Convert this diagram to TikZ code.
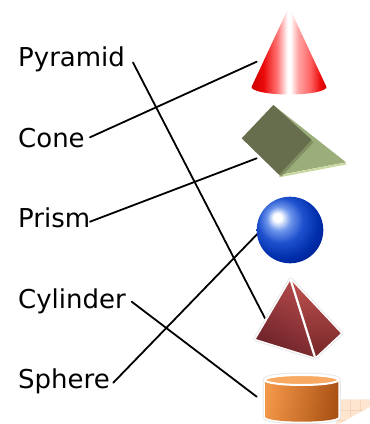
\documentclass[tikz,border=0pt]{standalone}
\usepackage{fontspec}
\setmainfont{DejaVu Sans}
\definecolor{coneD}{RGB}{205,0,0}
\definecolor{coneR}{RGB}{235,10,10}
\definecolor{prismDark}{RGB}{102,110,78}
\definecolor{prismLight}{RGB}{155,174,122}
\definecolor{prismRim}{RGB}{200,216,160}
\definecolor{prismBand}{RGB}{128,142,98}
\definecolor{pyrA}{RGB}{178,72,74}
\definecolor{pyrB}{RGB}{108,34,40}
\definecolor{pyrC}{RGB}{190,82,80}
\definecolor{pyrD}{RGB}{118,38,40}
\definecolor{cylL}{RGB}{242,150,72}
\definecolor{cylR}{RGB}{170,82,20}
\definecolor{cylTop}{RGB}{248,170,98}
\definecolor{shadowC}{RGB}{253,229,208}
\definecolor{shadowL}{RGB}{246,212,186}
\definecolor{glow}{RGB}{232,232,232}
\pgfdeclarehorizontalshading{coneshade}{100bp}{%
  color(0bp)=(coneD); color(25bp)=(coneD); color(33bp)=(coneR);
  color(42bp)=(red!55!white); color(49bp)=(white); color(51bp)=(white);
  color(56bp)=(red!35!white); color(64bp)=(red!60!white);
  color(71bp)=(coneR); color(75bp)=(coneD); color(100bp)=(coneD)}
\pgfdeclareradialshading{sphshade}{\pgfpoint{-10bp}{10bp}}{%
  color(0bp)=(white); color(3bp)=(white);
  color(9bp)=(rgb,255:red,110;green,150;blue,235);
  color(17bp)=(rgb,255:red,30;green,80;blue,205);
  color(27bp)=(rgb,255:red,0;green,45;blue,170);
  color(36bp)=(rgb,255:red,0;green,30;blue,140);
  color(60bp)=(rgb,255:red,0;green,30;blue,140)}
\tikzset{
  lbl/.style={anchor=base west, inner sep=0pt, font=\fontsize{26}{30}\selectfont},
  conn/.style={line width=1.8pt, black, line cap=round},
  glowline/.style={line width=5pt, glow, line join=round},
  whiteline/.style={line width=3pt, white, line join=round},
}
\begin{document}
\begin{tikzpicture}[x=1pt,y=-1pt]
\useasboundingbox (0,0) rectangle (370,424);
% labels
\node[lbl] (tpyr)   at (18,66.7)  {Pyramid};
\node[lbl] (tcone)  at (18,147.3) {Cone};
\node[lbl] (tprism) at (18,227.8) {Prism};
\node[lbl] (tcyl)   at (18,308.2) {Cylinder};
\node[lbl] (tsph)   at (18,388.4) {Sphere};
% connector ends
\coordinate (spyr)   at (133,62.5);
\coordinate (scone)  at (90,137.3);
\coordinate (sprism) at (90,221.7);
\coordinate (scyl)   at (131.7,301.7);
\coordinate (ssph)   at (113.3,382.7);
\coordinate (epyr)   at (265,318.3);
\coordinate (econe)  at (256.7,61.7);
\coordinate (eprism) at (256.7,158.3);
\coordinate (esph)   at (258,233.3);
\coordinate (ecyl)   at (256.7,396.7);
\draw[conn] (spyr) -- (epyr);
\draw[conn] (scone) -- (econe);
\draw[conn] (sprism) -- (eprism);
\draw[conn] (scyl) -- (ecyl);
\draw[conn] (ssph) -- (esph);
% cone
\shade[shading=coneshade] (251.5,87) -- (289,6.7) -- (326.5,87)
  arc[start angle=0, end angle=180, x radius=37.5, y radius=7.5] -- cycle;
% prism
\fill[prismLight] (273.3,105) -- (346,162.3) -- (279.3,175) -- cycle;
\draw[prismRim, line width=2pt] (346,163.5) -- (279.3,176.3);
\fill[prismDark] (273.3,105) -- (241.7,138.3) -- (279.3,175) -- (311.7,140) -- cycle;
\draw[prismBand, line width=2.5pt] (312.5,141.5) -- (280.5,175.5);
% sphere
\shade[shading=sphshade] (290,230) circle[radius=33.3];
% pyramid
\draw[glowline] (290.7,280) -- (256,339) -- (315,357.3) -- (340.7,333.3) -- cycle;
\draw[whiteline] (290.7,280) -- (256,339) -- (315,357.3) -- (340.7,333.3) -- cycle;
\shade[left color=pyrA, right color=pyrB, shading angle=-30] (290.7,280) -- (256,339) -- (315,357.3) -- cycle;
\shade[top color=pyrC, bottom color=pyrD] (290.7,280) -- (315,357.3) -- (340.7,333.3) -- cycle;
\draw[white, line width=2.2pt] (290.7,280) -- (315,357.3);
% cylinder shadow
\fill[shadowC] (336,399.3) -- (370,399.3) -- (370,406.7) -- (340,423.5) -- (336,423.5) -- cycle;
\begin{scope}
\clip (336,399.3) -- (370,399.3) -- (370,406.7) -- (340,423.5) -- (336,423.5) -- cycle;
\foreach \gx in {350,360} \draw[shadowL, line width=0.8pt] (\gx,395) -- (\gx,430);
\foreach \gy in {410,420} \draw[shadowL, line width=0.8pt] (330,\gy) -- (375,\gy);
\end{scope}
% cylinder
\draw[glowline] (265,380) -- (265,416.7)
  arc[start angle=180, end angle=0, x radius=36.7, y radius=5] -- (338.4,380)
  arc[start angle=0, end angle=-180, x radius=36.7, y radius=5] -- cycle;
\draw[whiteline] (265,380) -- (265,416.7)
  arc[start angle=180, end angle=0, x radius=36.7, y radius=5] -- (338.4,380)
  arc[start angle=0, end angle=-180, x radius=36.7, y radius=5] -- cycle;
\shade[left color=cylL, right color=cylR, shading angle=80] (265,380) -- (265,416.7)
  arc[start angle=180, end angle=0, x radius=36.7, y radius=5] -- (338.4,380) -- cycle;
\fill[cylTop] (301.7,380) ellipse[x radius=36.7, y radius=5];
\draw[white, line width=2pt] (301.7,380) ellipse[x radius=36.7, y radius=5];
\end{tikzpicture}
\end{document}
